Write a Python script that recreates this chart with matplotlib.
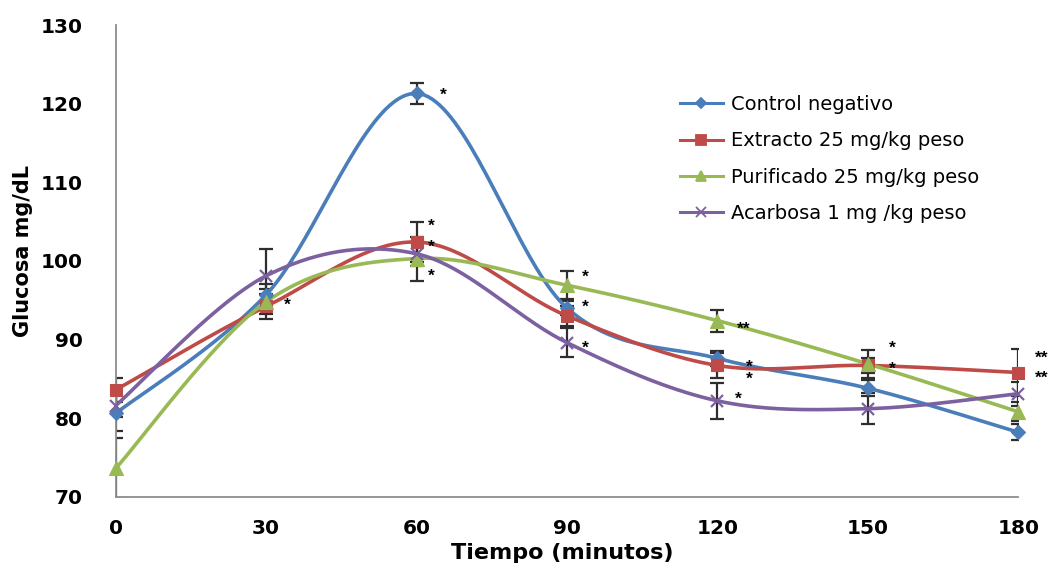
#!/usr/bin/env python3
"""Curva de tolerancia a la glucosa: glucosa vs tiempo para cuatro tratamientos."""

import matplotlib

matplotlib.use("Agg")
import matplotlib.pyplot as plt
import numpy as np

plt.rcParams.update(
    {
        "font.family": ["DejaVu Sans"],
        "axes.spines.top": False,
        "axes.spines.right": False,
    }
)

# --- data ---
TIME = [0, 30, 60, 90, 120, 150, 180]

CONTROL = [80.6, 95.7, 121.3, 94.0, 87.6, 83.8, 78.2]
CONTROL_ERR = [2.3, 1.4, 1.3, 0.9, 1.0, 1.0, 1.0]

EXTRACTO = [83.6, 94.2, 102.4, 93.0, 86.7, 86.7, 85.8]
EXTRACTO_ERR = [1.5, 1.6, 2.5, 1.3, 1.6, 1.0, 3.0]

PURIFICADO = [73.6, 94.8, 100.3, 96.9, 92.4, 86.9, 80.8]
PURIFICADO_ERR = [3.9, 1.6, 2.8, 1.8, 1.4, 1.8, 1.2]

ACARBOSA = [81.6, 98.1, 100.9, 89.6, 82.2, 81.2, 83.1]
ACARBOSA_ERR = [1.5, 3.4, 1.5, 1.8, 2.3, 2.0, 1.5]

LABELS = [
    "Control negativo",
    "Extracto 25 mg/kg peso",
    "Purificado 25 mg/kg peso",
    "Acarbosa 1 mg /kg peso",
]

# significance marks: (time, glucose level, text), centred
STARS = [
    (34.3, 94.6, "*"),
    (65.3, 121.3, "*"),
    (63.0, 104.6, "*"),
    (63.0, 102.0, "*"),
    (63.0, 98.3, "*"),
    (93.6, 98.2, "*"),
    (93.6, 94.4, "*"),
    (93.6, 89.1, "*"),
    (125.3, 91.6, "**"),
    (126.3, 86.7, "*"),
    (126.3, 85.2, "*"),
    (124.1, 82.7, "*"),
    (154.9, 89.1, "*"),
    (154.9, 86.5, "*"),
    (184.6, 87.8, "**"),
    (184.6, 85.3, "**"),
]

BLUE = "#4A7EBB"
RED = "#BE4B48"
GREEN = "#98B954"
PURPLE = "#7D60A0"
ERR = "#2E2E2E"


def smooth(x, y, n=40):
    """Excel-like smoothed line (Catmull-Rom as cubic Bezier)."""
    pts = np.column_stack([x, y]).astype(float)
    t = np.linspace(0, 1, n)[:, None]
    out = []
    for i in range(len(pts) - 1):
        p0 = pts[max(i - 1, 0)]
        p1 = pts[i]
        p2 = pts[i + 1]
        p3 = pts[min(i + 2, len(pts) - 1)]
        c1 = p1 + (p2 - p0) / 6
        c2 = p2 - (p3 - p1) / 6
        seg = (
            (1 - t) ** 3 * p1
            + 3 * (1 - t) ** 2 * t * c1
            + 3 * (1 - t) * t**2 * c2
            + t**3 * p2
        )
        out.append(seg if i == 0 else seg[1:])
    out = np.vstack(out)
    return out[:, 0], out[:, 1]


fig = plt.figure(figsize=(10.52, 5.69), dpi=100)
ax = fig.add_axes([0.110, 0.127, 0.858, 0.829])

series = [
    (CONTROL, CONTROL_ERR, BLUE, "D", 7),
    (EXTRACTO, EXTRACTO_ERR, RED, "s", 9),
    (PURIFICADO, PURIFICADO_ERR, GREEN, "^", 10),
    (ACARBOSA, ACARBOSA_ERR, PURPLE, "x", 9),
]

for (vals, err, color, marker, ms), label in zip(series, LABELS):
    ax.errorbar(
        TIME, vals, yerr=err, fmt="none", ecolor=ERR,
        elinewidth=1.6, capsize=5, capthick=1.6, zorder=2,
    )
    xs, ys = smooth(TIME, vals)
    ax.plot(xs, ys, color=color, linewidth=2.6, zorder=3, solid_capstyle="round")
    ax.plot(
        TIME, vals, linestyle="none", marker=marker, markersize=ms,
        color=color, markeredgecolor=color,
        markeredgewidth=1.6 if marker == "x" else 0.8,
        zorder=4, clip_on=False,
    )
    # legend proxy
    ax.plot([], [], color=color, linewidth=2.2, marker=marker,
            markersize=ms * 0.75, markeredgewidth=1.3, label=label)

for x, y, s in STARS:
    ax.text(x, y - 0.25, s, fontsize=12.5, fontweight="bold", ha="center",
            va="center", color="black", zorder=5, clip_on=False,
            family="Liberation Sans")

ax.set_xlim(0, 180)
ax.set_ylim(70, 130)
ax.set_xticks(TIME)
ax.set_yticks(np.arange(70, 131, 10))
ax.tick_params(length=0, labelsize=14.5)
ax.tick_params(axis="x", pad=16)
ax.tick_params(axis="y", pad=24)
for lab in ax.get_xticklabels() + ax.get_yticklabels():
    lab.set_fontweight("bold")

for side in ("left", "bottom"):
    ax.spines[side].set_color("#8C8C8C")
    ax.spines[side].set_linewidth(1.3)

ax.set_xlabel("Tiempo (minutos)", fontsize=16, fontweight="bold")
ax.xaxis.set_label_coords(0.495, -0.098)
ax.set_ylabel("Glucosa mg/dL", fontsize=15, fontweight="bold")
ax.yaxis.set_label_coords(-0.092, 0.52)

ax.legend(
    loc="upper left",
    bbox_to_anchor=(680 / 1052, 1 - 95 / 569),
    bbox_transform=fig.transFigure,
    frameon=False,
    fontsize=14,
    handlelength=2.2,
    handletextpad=0.4,
    labelspacing=0.89,
    borderpad=0,
    borderaxespad=0,
)

fig.savefig("out.png", dpi=100, facecolor="white")
